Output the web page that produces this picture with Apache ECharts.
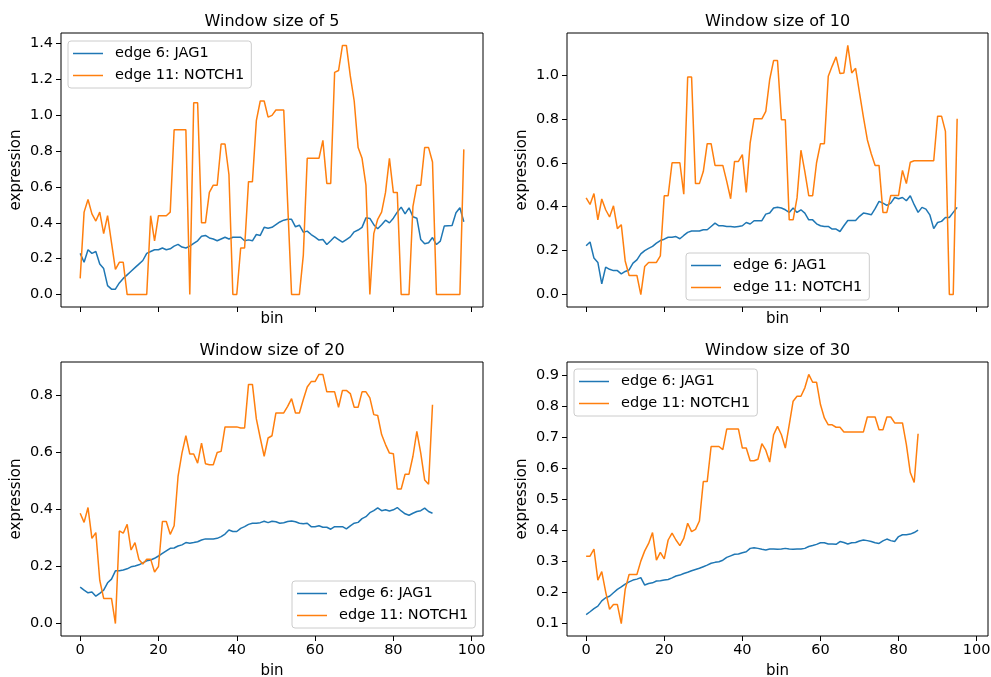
<!DOCTYPE html>
<html>
<head>
<meta charset="utf-8">
<script src="https://cdn.jsdelivr.net/npm/echarts@6/dist/echarts.min.js"></script>
<style>
html,body{margin:0;padding:0;background:#fff;}
#chart{width:991px;height:677px;}
</style>
</head>
<body>
<div id="chart"></div>
<script>
// ---------- data ----------
const panelTitles = ['Window size of 5', 'Window size of 10', 'Window size of 20', 'Window size of 30'];
const seriesNames = ['edge 6: JAG1', 'edge 11: NOTCH1'];
const xTicks = [0, 20, 40, 60, 80, 100];
const yTicksW5 = [0.0, 0.2, 0.4, 0.6, 0.8, 1.0, 1.2, 1.4];
const yTicksW10 = [0.0, 0.2, 0.4, 0.6, 0.8, 1.0];
const yTicksW20 = [0.0, 0.2, 0.4, 0.6, 0.8];
const yTicksW30 = [0.1, 0.2, 0.3, 0.4, 0.5, 0.6, 0.7, 0.8, 0.9];

const jag1W5 = [0.23,0.18,0.25,0.23,0.24,0.17,0.145,0.05,0.03,0.03,
  0.065,0.09,0.11,0.13,0.15,0.17,0.19,0.23,0.24,0.25,
  0.25,0.26,0.25,0.255,0.27,0.28,0.265,0.26,0.27,0.285,
  0.30,0.325,0.33,0.316,0.31,0.30,0.31,0.32,0.31,0.32,
  0.32,0.32,0.30,0.305,0.30,0.335,0.33,0.375,0.37,0.375,
  0.39,0.405,0.415,0.42,0.42,0.378,0.387,0.348,0.354,0.335,
  0.32,0.304,0.307,0.279,0.30,0.322,0.307,0.292,0.307,0.322,
  0.35,0.36,0.375,0.428,0.425,0.39,0.367,0.39,0.415,0.40,
  0.426,0.46,0.488,0.45,0.484,0.434,0.426,0.307,0.283,0.289,
  0.318,0.279,0.298,0.382,0.384,0.385,0.456,0.484,0.406];
const notch1W5 = [0.09,0.46,0.53,0.45,0.41,0.46,0.34,0.44,0.29,0.14,
  0.18,0.18,0,0,0,0,0,0,0.44,0.30,
  0.44,0.44,0.44,0.46,0.92,0.92,0.92,0.92,0,1.07,
  1.07,0.40,0.40,0.57,0.61,0.61,0.84,0.84,0.67,0,
  0,0.26,0.26,0.63,0.63,0.97,1.08,1.08,0.99,1.0,
  1.03,1.03,1.03,0.51,0,0,0,0.22,0.76,0.76,
  0.76,0.76,0.86,0.62,0.62,1.24,1.25,1.39,1.39,1.22,
  1.08,0.82,0.76,0.61,0,0.34,0.42,0.46,0.57,0.76,
  0.57,0.57,0,0,0,0.49,0.61,0.61,0.82,0.82,
  0.74,0,0,0,0,0,0,0,0.81];

const jag1W10 = [0.222,0.239,0.166,0.146,0.049,0.125,0.115,0.109,0.109,0.094,
  0.105,0.112,0.143,0.158,0.185,0.20,0.21,0.219,0.234,0.246,
  0.252,0.261,0.261,0.264,0.254,0.269,0.283,0.289,0.289,0.289,
  0.295,0.295,0.31,0.325,0.313,0.313,0.31,0.31,0.307,0.31,
  0.313,0.328,0.321,0.336,0.336,0.336,0.366,0.371,0.394,0.397,
  0.394,0.386,0.374,0.394,0.374,0.386,0.371,0.34,0.34,0.322,
  0.313,0.31,0.31,0.298,0.298,0.287,0.313,0.337,0.337,0.337,
  0.356,0.371,0.368,0.363,0.391,0.424,0.416,0.406,0.416,0.442,
  0.436,0.442,0.427,0.45,0.409,0.374,0.397,0.389,0.363,0.30,
  0.328,0.333,0.351,0.351,0.374,0.397];
const notch1W10 = [0.44,0.41,0.46,0.34,0.435,0.386,0.353,0.404,0.30,0.318,
  0.153,0.087,0.087,0.087,0,0.128,0.146,0.146,0.146,0.176,
  0.45,0.45,0.60,0.60,0.60,0.457,0.99,0.99,0.505,0.505,
  0.56,0.687,0.687,0.588,0.588,0.588,0.515,0.436,0.606,0.606,
  0.637,0.465,0.69,0.80,0.80,0.80,0.834,0.979,1.065,1.065,
  0.796,0.796,0.34,0.34,0.44,0.657,0.56,0.45,0.45,0.60,
  0.687,0.687,0.994,1.04,1.082,1.006,1.009,1.134,1.009,1.03,
  0.918,0.808,0.705,0.641,0.588,0.588,0.374,0.374,0.451,0.451,
  0.451,0.565,0.505,0.602,0.609,0.609,0.609,0.609,0.609,0.609,
  0.812,0.812,0.743,0,0,0.80];

const jag1W20 = [0.128,0.117,0.108,0.111,0.096,0.106,0.117,0.143,0.156,0.185,
  0.185,0.188,0.192,0.199,0.202,0.206,0.213,0.22,0.223,0.229,
  0.237,0.246,0.255,0.264,0.265,0.272,0.276,0.284,0.282,0.284,
  0.287,0.293,0.297,0.297,0.297,0.299,0.305,0.314,0.328,0.323,
  0.323,0.334,0.34,0.348,0.352,0.352,0.354,0.359,0.354,0.359,
  0.357,0.352,0.354,0.358,0.36,0.357,0.352,0.35,0.352,0.34,
  0.34,0.343,0.338,0.338,0.331,0.34,0.34,0.34,0.332,0.343,
  0.352,0.355,0.368,0.375,0.389,0.396,0.406,0.396,0.399,0.395,
  0.399,0.407,0.395,0.385,0.38,0.387,0.393,0.396,0.405,0.393,
  0.387];
const notch1W20 = [0.387,0.355,0.407,0.299,0.319,0.152,0.088,0.088,0.088,0,
  0.325,0.317,0.348,0.258,0.284,0.225,0.209,0.226,0.226,0.181,
  0.20,0.358,0.358,0.313,0.343,0.516,0.598,0.659,0.595,0.595,
  0.563,0.633,0.561,0.557,0.557,0.60,0.604,0.69,0.69,0.69,
  0.69,0.686,0.686,0.839,0.839,0.718,0.651,0.587,0.651,0.659,
  0.739,0.739,0.739,0.762,0.789,0.739,0.739,0.786,0.83,0.849,
  0.849,0.874,0.874,0.813,0.813,0.813,0.759,0.818,0.818,0.807,
  0.759,0.759,0.813,0.813,0.792,0.733,0.73,0.663,0.628,0.598,
  0.596,0.472,0.472,0.524,0.524,0.587,0.674,0.598,0.504,0.489,
  0.768];

const jag1W30 = [0.128,0.137,0.147,0.155,0.172,0.182,0.187,0.198,0.209,0.217,
  0.226,0.233,0.239,0.242,0.247,0.223,0.228,0.23,0.236,0.237,
  0.239,0.241,0.246,0.252,0.255,0.26,0.264,0.269,0.273,0.277,
  0.282,0.287,0.293,0.296,0.298,0.303,0.312,0.317,0.322,0.323,
  0.327,0.33,0.341,0.343,0.341,0.338,0.336,0.339,0.339,0.338,
  0.339,0.341,0.339,0.338,0.339,0.339,0.341,0.347,0.35,0.354,
  0.359,0.359,0.355,0.355,0.354,0.363,0.36,0.355,0.359,0.36,
  0.365,0.368,0.366,0.363,0.359,0.357,0.365,0.371,0.366,0.363,
  0.379,0.385,0.385,0.387,0.392,0.40];
const notch1W30 = [0.316,0.316,0.339,0.239,0.266,0.201,0.145,0.16,0.16,0.099,
  0.209,0.257,0.257,0.257,0.30,0.333,0.357,0.392,0.303,0.328,
  0.307,0.368,0.39,0.368,0.35,0.373,0.422,0.395,0.402,0.429,
  0.556,0.556,0.669,0.669,0.669,0.659,0.725,0.725,0.725,0.725,
  0.664,0.664,0.623,0.623,0.628,0.678,0.657,0.619,0.707,0.734,
  0.707,0.664,0.739,0.815,0.831,0.831,0.858,0.901,0.876,0.876,
  0.804,0.761,0.739,0.739,0.731,0.731,0.716,0.716,0.716,0.716,
  0.716,0.716,0.764,0.764,0.764,0.723,0.723,0.764,0.764,0.745,
  0.745,0.745,0.675,0.585,0.553,0.71];

// ---------- build ----------
const panels = [
  { title: panelTitles[0], jag: jag1W5,  notch: notch1W5,  yTicks: yTicksW5 },
  { title: panelTitles[1], jag: jag1W10, notch: notch1W10, yTicks: yTicksW10 },
  { title: panelTitles[2], jag: jag1W20, notch: notch1W20, yTicks: yTicksW20 },
  { title: panelTitles[3], jag: jag1W30, notch: notch1W30, yTicks: yTicksW30 }
];
// layout (pixels)
const grids = [
  { left: 61,  top: 33,  width: 422, height: 274 },
  { left: 567, top: 33,  width: 421, height: 274 },
  { left: 61,  top: 362, width: 422, height: 274 },
  { left: 567, top: 362, width: 421, height: 274 }
];
const legendPos = [
  { left: 68,  top: 41 },
  { left: 686, top: 253 },
  { left: 292, top: 581 },
  { left: 574, top: 369 }
];
const BLUE = '#1f77b4', ORANGE = '#ff7f0e';
const FONT = 'DejaVu Sans';

// matplotlib-style 5% margins
const xMaxData = Math.max(...panels.map(p => Math.max(p.jag.length, p.notch.length) - 1));
const xPad = xMaxData * 0.05;
function yRange(p) {
  const all = p.jag.concat(p.notch);
  const lo = Math.min(...all), hi = Math.max(...all);
  const pad = (hi - lo) * 0.05;
  return [lo - pad, hi + pad];
}

const option = {
  animation: false,
  backgroundColor: '#ffffff',
  textStyle: { fontFamily: FONT, color: '#000' },
  title: [], grid: [], xAxis: [], yAxis: [], legend: [], series: []
};

panels.forEach((p, i) => {
  const g = grids[i];
  const bottomRow = i >= 2;
  option.grid.push(Object.assign({ show: true, borderColor: '#000', borderWidth: 1, backgroundColor: 'transparent', containLabel: false, outerBoundsMode: 'none' }, g));
  option.title.push({
    text: p.title,
    left: g.left + g.width / 2,
    top: g.top - 21,
    textAlign: 'center',
    padding: 0,
    textStyle: { fontFamily: FONT, fontSize: 16, fontWeight: 'normal', color: '#000', lineHeight: 20 }
  });
  const yr = yRange(p);
  option.xAxis.push({
    type: 'value', gridIndex: i,
    min: -xPad, max: xMaxData + xPad,
    axisLine: { show: false, onZero: false },
    axisTick: { show: true, length: 5, lineStyle: { color: '#000', width: 1 }, customValues: xTicks },
    axisLabel: { show: bottomRow, customValues: xTicks, margin: 7, fontSize: 14.5, color: '#000', fontFamily: FONT,
                 showMinLabel: true, showMaxLabel: true },
    splitLine: { show: false },
    name: 'bin', nameLocation: 'middle', nameGap: bottomRow ? 26 : 3,
    nameTextStyle: { fontSize: 15, color: '#000', fontFamily: FONT, lineHeight: 18 }
  });
  option.yAxis.push({
    type: 'value', gridIndex: i,
    min: yr[0], max: yr[1],
    axisLine: { show: false, onZero: false },
    axisTick: { show: true, length: 5, lineStyle: { color: '#000', width: 1 }, customValues: p.yTicks },
    axisLabel: { customValues: p.yTicks, margin: 8, fontSize: 14.5, color: '#000', fontFamily: FONT,
                 formatter: v => Number(v).toFixed(1) },
    splitLine: { show: false },
    name: 'expression', nameLocation: 'middle', nameGap: 36,
    nameTextStyle: { fontSize: 15, color: '#000', fontFamily: FONT, lineHeight: 18 }
  });
  option.legend.push({
    left: legendPos[i].left, top: legendPos[i].top,
    orient: 'vertical',
    data: seriesNames,
    icon: 'rect',
    itemWidth: 30, itemHeight: 1.5, itemGap: 5,
    padding: [4, 7, 4, 5],
    borderColor: '#cccccc', borderWidth: 1, borderRadius: 3,
    backgroundColor: 'rgba(255,255,255,0.8)',
    selectedMode: false,
    textStyle: { fontFamily: FONT, fontSize: 14.5, color: '#000', lineHeight: 17, padding: [0, 0, 0, 7] }
  });
  [[seriesNames[0], p.jag, BLUE], [seriesNames[1], p.notch, ORANGE]].forEach(([name, arr, color]) => {
    option.series.push({
      type: 'line', name: name,
      xAxisIndex: i, yAxisIndex: i,
      data: arr.map((v, k) => [k, v]),
      symbol: 'none', showSymbol: false,
      color: color,
      lineStyle: { color: color, width: 1.5 },
      itemStyle: { color: color },
      z: name === seriesNames[0] ? 2 : 3
    });
  });
});

const chart = echarts.init(document.getElementById('chart'), null, { renderer: 'canvas' });
chart.setOption(option);
</script>
</body>
</html>
